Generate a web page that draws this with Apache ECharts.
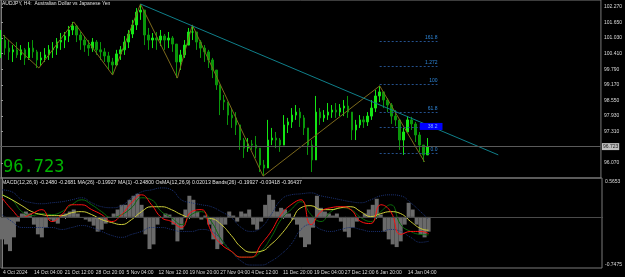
<!DOCTYPE html>
<html>
<head>
<meta charset="utf-8">
<title>AUDJPY, H4</title>
<script src="https://cdn.jsdelivr.net/npm/echarts@6/dist/echarts.min.js"></script>
<style>
  html, body { margin: 0; padding: 0; background: #000; }
  #chart { width: 625px; height: 277px; }
</style>
</head>
<body>
<div id="chart"></div>
<script>
// price bars, one every 4 chart bars (x = index * 4)
const highs = [101.35,101.15,100.95,100.75,100.87,100.75,100.63,100.87,100.95,100.56,100.48,100.63,100.75,100.87,101.03,101.23,101.27,101.51,101.67,101.55,
  101.27,101.11,100.95,101.03,100.95,100.87,100.63,100.48,100.24,100.56,100.71,101.11,101.35,101.75,102.22,102.38,102.06,101.43,101.23,101.27,
  101.35,101.19,101.27,101.11,100.75,100.56,100.95,101.43,101.55,101.27,100.95,100.75,100.56,100.24,99.76,99.05,98.77,98.37,98.25,98.09,
  97.58,97.06,97.06,96.98,97.14,96.59,96.19,97.78,97.46,97.30,97.06,97.97,97.86,98.25,98.37,98.25,97.97,97.46,96.98,98.73,
  98.25,98.17,98.45,98.37,98.45,98.41,98.57,98.73,98.09,97.78,97.97,97.93,98.09,98.57,98.97,99.13,98.89,98.65,98.45,98.17,
  97.58,97.46,97.93,97.90,97.70,97.30,96.74,97.06];
const lows = [100.24,100.36,100.16,100.08,100.24,100.16,99.96,100.16,100.24,99.84,99.92,100.08,100.16,100.24,100.36,100.56,100.63,100.87,101.15,100.87,
  100.56,100.48,100.32,100.48,100.36,100.16,100.08,99.76,99.56,99.92,100.16,100.36,100.63,101.03,101.35,101.75,100.75,100.56,100.63,100.56,
  100.71,100.56,100.63,100.48,99.44,99.76,100.24,100.75,100.95,100.56,100.24,100.08,99.84,99.44,98.97,97.97,98.17,97.58,97.46,97.18,
  96.59,96.27,96.51,96.59,96.27,95.71,95.55,95.87,96.78,96.66,96.51,96.78,97.26,97.46,97.78,97.50,97.18,96.39,95.71,96.59,
  97.58,97.70,97.78,97.86,97.86,97.93,97.93,97.86,96.98,96.98,97.46,97.46,97.54,97.78,98.09,98.49,98.25,98.09,97.62,97.54,
  96.59,96.39,97.30,97.38,96.90,96.51,96.11,96.39];
const closes = [100.95,100.63,100.48,100.56,100.36,100.56,100.24,100.63,100.48,100.16,100.24,100.36,100.56,100.63,100.87,100.95,101.11,101.35,101.51,101.15,
  100.95,100.75,100.63,100.87,100.56,100.48,100.32,100.08,99.96,100.40,100.56,100.87,101.19,101.55,102.06,102.14,101.15,100.95,101.03,100.95,
  101.11,100.95,101.03,100.79,100.08,100.36,100.75,101.27,101.27,100.87,100.63,100.48,100.16,99.76,99.17,98.57,98.49,97.97,97.86,97.58,
  96.98,96.66,96.82,96.78,96.66,95.99,95.87,96.98,97.06,96.98,96.78,97.58,97.70,97.97,98.09,97.86,97.46,96.78,96.19,98.09,
  97.86,97.97,98.09,98.17,98.09,98.25,98.33,98.09,97.38,97.58,97.78,97.70,97.93,98.25,98.73,98.89,98.57,98.37,97.93,97.78,
  96.98,97.30,97.78,97.62,97.18,96.78,96.39,96.72];

// zigzag and trend line
const zigzagX = [2, 38, 73, 112, 140, 177, 192, 263, 380, 425];
const zigzagP = [101.15, 99.84, 101.67, 99.56, 102.38, 99.44, 101.55, 95.55, 99.13, 96.11];
const trendX = [140, 499];
const trendP = [102.38, 96.39];

// fibonacci levels
const fibNames = ['161.8', '1.272', '100', '61.8', '38.2', '0.0'];
const fibPrices = [100.91, 99.92, 99.21, 98.09, 97.50, 96.47];
const fibFrom = 380, fibTo = 438;

const lastPrice = 96.723;
const priceTicks = [102.27, 101.65, 101.03, 100.41, 99.79, 99.17, 98.55, 97.93, 97.31, 96.07];

// MACD window
const histo = [-0.335,-0.41,-0.51,-0.305,-0.07,0.05,0.08,0.05,-0.115,-0.26,-0.305,-0.16,-0.04,-0.07,-0.1,0.035,0.05,0.08,0.11,0.05,
  -0.01,-0.04,-0.07,-0.13,-0.22,-0.19,-0.1,-0.01,0.05,0.11,0.18,0.18,0.255,0.315,0.345,0.18,-0.26,-0.48,-0.41,-0.115,
  -0.01,0.05,0.035,-0.115,-0.365,-0.19,0.11,0.315,0.255,0.08,-0.04,0.02,-0.115,-0.335,-0.48,-0.41,-0.115,0.08,0.02,-0.07,
  0.08,0.05,0.11,-0.115,-0.19,-0.07,0.18,0.33,0.255,0.08,0.135,0.11,0.05,-0.04,-0.115,-0.305,-0.45,-0.41,-0.16,0.315,
  0.135,0.08,0.05,0.02,0.05,-0.07,-0.22,-0.305,-0.16,-0.07,-0.01,0.05,0.11,0.18,0.27,0.035,-0.22,-0.335,-0.41,-0.45,
  -0.365,-0.115,0.21,0.11,-0.115,-0.26,-0.305,-0.22];
const lineX = [0,10,20,30,40,50,60,70,80,90,100,110,120,130,140,150,160,170,180,190,200,210,220,230,240,250,260,270,280,290,300,310,320,330,340,350,360,370,380,390,400,410,420,428];
const macdMain = [0.285,0.108,-0.01,0.049,0.108,-0.069,0.034,0.181,0.181,0.108,0.034,-0.069,0.034,0.211,0.329,0.181,-0.01,-0.069,-0.158,0.078,0.108,-0.217,-0.409,-0.512,-0.6,-0.6,-0.409,-0.217,0.034,0.181,0.255,-0.114,0.078,0.137,0.152,0.108,-0.069,-0.099,0.181,0.078,-0.261,-0.217,-0.217,-0.248];
const macdSignal = [0.329,0.255,0.078,0.019,0.049,0.034,0.078,0.181,0.255,0.181,0.078,-0.01,0.034,0.137,0.285,0.255,0.078,-0.01,-0.114,0.034,0.078,-0.069,-0.335,-0.512,-0.6,-0.6,-0.512,-0.305,-0.04,0.108,0.226,0.034,-0.069,0.078,0.137,0.108,-0.01,-0.069,0.078,0.181,-0.114,-0.217,-0.261,-0.268];
const ma26 = [0.329,0.255,0.167,0.078,0.034,0.019,0.019,0.063,0.078,0.034,-0.04,-0.084,-0.114,-0.04,0.078,0.152,0.152,0.108,0.034,-0.01,-0.01,-0.025,-0.114,-0.276,-0.453,-0.527,-0.512,-0.409,-0.261,-0.069,0.137,0.167,0.108,0.108,0.137,0.152,0.078,0.004,0.049,0.078,0.049,-0.069,-0.173,-0.199];
const bandUp = [0.403,0.373,0.255,0.211,0.196,0.211,0.226,0.255,0.285,0.211,0.152,0.137,0.167,0.285,0.373,0.403,0.432,0.403,0.255,0.211,0.181,0.152,0.078,-0.01,-0.158,-0.217,-0.158,0.034,0.255,0.329,0.344,0.358,0.314,0.285,0.255,0.226,0.211,0.255,0.314,0.329,0.314,0.211,0.078,-0.034];
const bandDn = [0.034,-0.069,-0.158,-0.158,-0.158,-0.158,-0.187,-0.158,-0.128,-0.158,-0.217,-0.276,-0.305,-0.261,-0.217,-0.158,-0.158,-0.187,-0.217,-0.217,-0.187,-0.217,-0.335,-0.512,-0.659,-0.718,-0.718,-0.659,-0.556,-0.409,-0.187,-0.114,-0.187,-0.217,-0.187,-0.158,-0.187,-0.217,-0.217,-0.187,-0.217,-0.305,-0.379,-0.364];

const timeLabels = ['4 Oct 2024','14 Oct 04:00','21 Oct 12:00','28 Oct 20:00','5 Nov 04:00','12 Nov 12:00','19 Nov 20:00','27 Nov 04:00','4 Dec 12:00','11 Dec 20:00','19 Dec 04:00','27 Dec 12:00','6 Jan 20:00','14 Jan 04:00'];
const timePos = [1,32,63,94,125,157,188,219,250,282,313,344,375,407];

const chart = echarts.init(document.getElementById('chart'));

const candles = closes.map((c, i) => [i * 4, i === 0 ? c : closes[i - 1], c, lows[i], highs[i]]);
const pair = (xs, ys) => xs.map((x, i) => [x, ys[i]]);
const small = 'Liberation Sans';

const fibLines = fibNames.map((name, i) => {
  const label = {
    show: true, position: 'insideEndTop', distance: [0, 1],
    formatter: name, color: '#2f86d8', fontSize: 5, fontFamily: small
  };
  if (name === '38.2') {
    Object.assign(label, { backgroundColor: '#0000ff', color: '#7fb2ff', padding: [1, 5, 1, 8], distance: [-5, -3] });
  }
  return [
    { coord: [fibFrom, fibPrices[i]], label: label },
    { coord: [fibTo, fibPrices[i]] }
  ];
});

const option = {
  backgroundColor: '#000',
  animation: false,
  graphic: [
    { type: 'text', left: 2, top: 1, style: { text: 'AUDJPY, H4:  Australian Dollar vs Japanese Yen', fill: '#e0e0e0', font: '5px ' + small } },
    { type: 'text', left: 3, top: 159, style: { text: '96.723', fill: '#00b400', font: '17px "DejaVu Sans Mono"' } },
    { type: 'text', left: 2, top: 180.5, style: { text: 'MACD(12,26,9) -0.2480 -0.2681 MA(26) -0.19927 MA(1) -0.24800 OsMA(12,26,9) 0.02013 Bands(26) -0.19927 -0.03418 -0.36437', fill: '#e0e0e0', font: '5.2px ' + small } }
  ],
  grid: [
    { left: -1, top: 0, width: 603, height: 178, show: true, borderColor: '#7a7a7a', borderWidth: 1 },
    { left: -1, top: 178, width: 603, height: 90, show: true, borderColor: '#7a7a7a', borderWidth: 1 }
  ],
  xAxis: [
    { type: 'value', gridIndex: 0, min: -1, max: 602, show: false },
    {
      type: 'value', gridIndex: 1, min: -1, max: 602,
      axisLine: { show: true, lineStyle: { color: '#7a7a7a' } },
      splitLine: { show: false },
      axisTick: { show: true, customValues: timePos, length: 2, lineStyle: { color: '#9a9a9a' } },
      axisLabel: {
        customValues: timePos, margin: 2, align: 'left', color: '#dcdcdc', fontSize: 5, fontFamily: small,
        formatter: v => timeLabels[timePos.indexOf(v)]
      }
    }
  ],
  yAxis: [
    {
      type: 'value', gridIndex: 0, position: 'right', min: 95.473, max: 102.54, scale: true,
      axisLine: { show: true, lineStyle: { color: '#7a7a7a' } },
      splitLine: { show: false },
      axisTick: { show: true, customValues: priceTicks, length: 2, inside: false, lineStyle: { color: '#9a9a9a' } },
      axisLabel: { customValues: priceTicks, margin: 3, color: '#dcdcdc', fontSize: 5, fontFamily: small, formatter: v => v.toFixed(3) }
    },
    {
      type: 'value', gridIndex: 1, position: 'right', min: -0.762, max: 0.58,
      axisLine: { show: true, lineStyle: { color: '#7a7a7a' } },
      splitLine: { show: false },
      axisTick: { show: false },
      axisLabel: { customValues: [0.5653], margin: 3, color: '#dcdcdc', fontSize: 5, fontFamily: small, verticalAlign: 'top', formatter: v => v.toFixed(4) }
    },
    {
      type: 'value', gridIndex: 1, position: 'right', min: -0.762, max: 0.58,
      axisLine: { show: false },
      splitLine: { show: false },
      axisTick: { show: false },
      axisLabel: { customValues: [-0.7475], margin: 3, color: '#dcdcdc', fontSize: 5, fontFamily: small, verticalAlign: 'bottom', formatter: v => v.toFixed(4) }
    }
  ],
  series: [
    {
      name: 'price', type: 'candlestick', xAxisIndex: 0, yAxisIndex: 0,
      encode: { x: 0, y: [1, 2, 3, 4] },
      data: candles, barWidth: 2,
      itemStyle: { color: '#14e614', color0: '#0a960a', borderColor: '#14e614', borderColor0: '#0a960a', borderWidth: 1 },
      markLine: {
        silent: true, symbol: 'none',
        data: [{
          yAxis: lastPrice,
          lineStyle: { color: '#5a5a5a', type: 'solid', width: 1 },
          label: { show: true, position: 'end', distance: 1, formatter: '96.723', color: '#1a1a1a', backgroundColor: '#c0c0c0', padding: [1, 1], fontSize: 5, fontFamily: small }
        }]
      }
    },
    {
      name: 'zigzag', type: 'line', xAxisIndex: 0, yAxisIndex: 0,
      data: pair(zigzagX, zigzagP), showSymbol: false,
      lineStyle: { color: '#7d6a1c', width: 1 }
    },
    {
      name: 'trend', type: 'line', xAxisIndex: 0, yAxisIndex: 0,
      data: pair(trendX, trendP), showSymbol: false,
      lineStyle: { color: '#0f7f8a', width: 1 },
      markLine: {
        silent: true, symbol: 'none',
        lineStyle: { color: '#24508c', type: [2, 2], width: 1 },
        data: fibLines
      }
    },
    {
      name: 'OsMA', type: 'bar', xAxisIndex: 1, yAxisIndex: 1,
      data: pair(candles.map(c => c[0]), histo), barWidth: 4,
      itemStyle: { color: '#6a6a6a' },
      markLine: {
        silent: true, symbol: 'none', label: { show: false },
        data: [{ yAxis: 0 }], lineStyle: { color: '#4a4a4a', type: 'solid', width: 1 }
      }
    },
    { name: 'BandUp', type: 'line', xAxisIndex: 1, yAxisIndex: 1, data: pair(lineX, bandUp), smooth: true, showSymbol: false, lineStyle: { color: '#1b3275', type: 'dotted', width: 1 } },
    { name: 'BandDn', type: 'line', xAxisIndex: 1, yAxisIndex: 1, data: pair(lineX, bandDn), smooth: true, showSymbol: false, lineStyle: { color: '#1b3275', type: 'dotted', width: 1 } },
    { name: 'Signal', type: 'line', xAxisIndex: 1, yAxisIndex: 1, data: pair(lineX, macdSignal), smooth: true, showSymbol: false, lineStyle: { color: '#0a6a0a', width: 1 } },
    { name: 'MA26', type: 'line', xAxisIndex: 1, yAxisIndex: 1, data: pair(lineX, ma26), smooth: true, showSymbol: false, lineStyle: { color: '#cfcf3a', width: 1 } },
    { name: 'MACD', type: 'line', xAxisIndex: 1, yAxisIndex: 1, data: pair(lineX, macdMain), smooth: true, showSymbol: false, lineStyle: { color: '#ff1010', width: 1 } }
  ]
};

chart.setOption(option);
</script>
</body>
</html>
